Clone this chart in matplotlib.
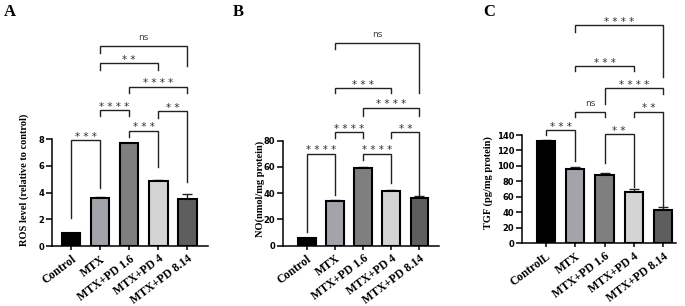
import matplotlib
matplotlib.use("Agg")
import matplotlib.pyplot as plt

groups = ["Control", "MTX", "MTX+PD 1.6", "MTX+PD 4", "MTX+PD 8.14"]
groups_c = ["ControlL", "MTX", "MTX+PD 1.6", "MTX+PD 4", "MTX+PD 8.14"]
bar_colors = ["#000000", "#a3a3ab", "#7f7f7f", "#d4d4d4", "#5e5e5e"]

# panel A - ROS
ros_mean = [0.95, 3.61, 7.68, 4.88, 3.54]
ros_err = [0.0, 0.07, 0.04, 0.08, 0.38]
# panel B - NO
no_mean = [5.6, 34.0, 59.4, 41.6, 36.1]
no_err = [0.4, 0.7, 0.6, 0.6, 1.7]
# panel C - TGF
tgf_mean = [132.0, 95.5, 88.2, 66.2, 43.0]
tgf_err = [1.0, 3.3, 3.0, 4.0, 4.3]

# comparisons (bar i, bar j, label) and bracket heights in data units
ros_pairs = [(0, 1, "***"), (1, 2, "****"), (2, 3, "***"), (3, 4, "**"),
             (2, 4, "****"), (1, 3, "**"), (1, 4, "ns")]
ros_top = [7.93, 10.17, 8.62, 10.09, 11.91, 13.66, 14.95]
ros_left = [2.07, 9.72, 8.17, 9.6, 11.42, 13.16, 14.45]
ros_right = [4.31, 9.72, 5.93, 4.81, 11.42, 13.16, 13.48]

no_pairs = [(0, 1, "****"), (1, 2, "****"), (2, 3, "****"), (3, 4, "**"),
            (2, 4, "****"), (1, 3, "***"), (1, 4, "ns")]
no_top = [70.0, 86.3, 70.0, 86.3, 105.0, 120.2, 154.6]
no_left = [10.7, 82.0, 65.5, 82.0, 98.5, 116.4, 150.0]
no_right = [38.7, 82.0, 47.7, 38.6, 98.5, 116.4, 116.4]

tgf_pairs = [(0, 1, "***"), (1, 2, "ns"), (2, 3, "**"), (3, 4, "**"),
             (2, 4, "****"), (1, 3, "***"), (1, 4, "****")]
tgf_top = [146.5, 169.3, 141.3, 170.1, 200.4, 229.2, 282.2]
tgf_left = [140.0, 162.9, 104.2, 162.9, 180.1, 222.7, 273.5]
tgf_right = [106.8, 162.9, 73.2, 48.6, 193.0, 222.7, 214.6]

W, H = 685, 306
SERIF = "Liberation Serif"
SANS = "DejaVu Sans"


def panel(rect, xlim, ymax, ystep, means, errs, labels, ylabel, ylab_pos,
          pairs, tops, lefts, rights, width):
    x0, y0, x1, y1 = rect
    ax = fig.add_axes([x0 / W, 1 - y0 / H, (x1 - x0) / W, (y0 - y1) / H])
    xs = list(range(len(means)))
    ax.bar(xs, means, width=width, color=bar_colors, edgecolor="black",
           linewidth=1.5, zorder=2)
    ax.errorbar(xs, means, yerr=[[0] * len(errs), errs], fmt="none",
                ecolor="#222222", elinewidth=1.0, capsize=3.6, capthick=1.0,
                zorder=1)
    ax.set_xlim(*xlim)
    ax.set_ylim(0, ymax)
    ax.set_yticks(range(0, ymax + 1, ystep))
    ax.set_xticks(xs)
    ax.set_xticklabels(labels, rotation=37, ha="right", rotation_mode="anchor",
                       fontfamily=SERIF, fontweight="bold", fontsize=8.5)
    for t in ax.get_yticklabels():
        t.set_fontfamily(SANS)
        t.set_fontweight("bold")
        t.set_fontsize(6)
    ax.tick_params(axis="y", length=4, width=1.1, pad=1.5)
    ax.tick_params(axis="x", length=3, width=1.1, pad=2)
    for s in ["top", "right"]:
        ax.spines[s].set_visible(False)
    for s in ["left", "bottom"]:
        ax.spines[s].set_linewidth(1.1)
    ax.text(ylab_pos[0], ylab_pos[1], ylabel, transform=ax.transAxes,
            rotation=90, ha="center", va="center", fontfamily=SERIF,
            fontweight="bold", fontsize=7.5)
    # significance brackets
    for (i, j, lab), top, le, ri in zip(pairs, tops, lefts, rights):
        ax.plot([i, i, j, j], [le, top, top, ri], color="#222222", lw=1.0,
                clip_on=False, solid_joinstyle="miter")
        if lab == "ns":
            ax.annotate(lab, xy=((i + j) / 2, top), xytext=(0, 4.5),
                        textcoords="offset points", ha="center",
                        va="baseline", fontsize=6.5, color="#444444",
                        fontfamily=SANS, annotation_clip=False)
        else:
            ax.annotate(" ".join(lab), xy=((i + j) / 2, top), xytext=(0, 0.3),
                        textcoords="offset points", ha="center",
                        va="baseline", fontsize=7.5, color="#333333",
                        fontfamily=SANS, annotation_clip=False)
    return ax


fig = plt.figure(figsize=(W / 100, H / 100), dpi=100)

panel((51.7, 246, 208, 139), (-0.66, 4.71), 8, 2, ros_mean, ros_err, groups,
      "ROS level (relative to control)", (-0.177, 0.617),
      ros_pairs, ros_top, ros_left, ros_right, 0.64)
panel((282.7, 245.7, 439, 140.7), (-0.86, 4.70), 80, 20, no_mean, no_err,
      groups, "NO(nmol/mg protein)", (-0.145, 0.545),
      no_pairs, no_top, no_left, no_right, 0.62)
panel((521.7, 243.3, 676, 135), (-0.83, 4.44), 140, 20, tgf_mean, tgf_err,
      groups_c, "TGF (pg/mg protein)", (-0.216, 0.557),
      tgf_pairs, tgf_top, tgf_left, tgf_right, 0.62)

for letter, xp in [("A", 4), ("B", 233), ("C", 483)]:
    fig.text(xp / W, 1 - 4 / H, letter, ha="left", va="top", fontsize=12,
             fontweight="bold", fontfamily=SERIF)

fig.savefig("out.png", dpi=100)
